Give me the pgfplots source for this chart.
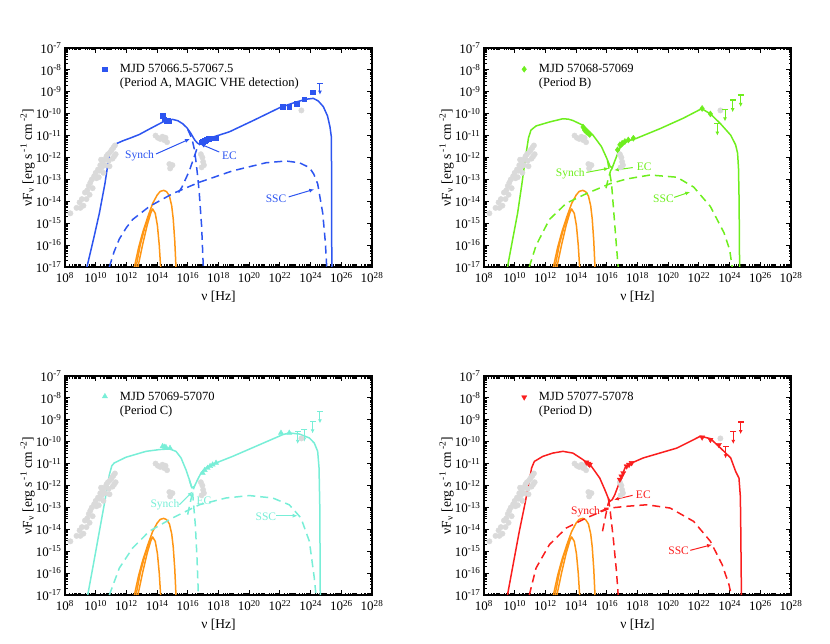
\documentclass[border=0pt]{standalone}
\usepackage{fontspec}
\setmainfont{Liberation Serif}
\usepackage{pgfplots}
\pgfplotsset{compat=1.18}
\usetikzlibrary{arrows.meta}

\definecolor{cA}{RGB}{45,85,240}
\definecolor{cB}{RGB}{110,238,30}
\definecolor{cC}{RGB}{120,238,215}
\definecolor{cD}{RGB}{250,30,30}
\definecolor{orng}{RGB}{255,150,20}
\definecolor{gry}{RGB}{218,218,218}

\xdef\xminors{8}
\foreach \dd in {8,...,27}{%
  \foreach \kk in {0.30103,0.47712,0.60206,0.69897,0.77815,0.84510,0.90309,0.95424}{%
    \pgfmathparse{\dd+\kk}%
    \xdef\xminors{\xminors,\pgfmathresult}}%
  \ifodd\dd\relax \xdef\xminors{\xminors,\dd}\fi}
\xdef\yminors{-17}
\foreach \dd in {-17,...,-8}{%
  \foreach \kk in {0.30103,0.47712,0.60206,0.69897,0.77815,0.84510,0.90309,0.95424}{%
    \pgfmathparse{\dd+\kk}%
    \xdef\yminors{\yminors,\pgfmathresult}}}

\tikzset{
  lbl/.style={font=\fontsize{11.5}{13}\selectfont},
  leg/.style={font=\fontsize{12.5}{15}\selectfont, anchor=west, text=black},
}
\pgfplotsset{sed/.style={
  scale only axis, width=307pt, height=219pt,
  xmin=8, xmax=28, ymin=-17, ymax=-7,
  xtick={8,10,...,28},
  xticklabels={10\textsuperscript{8},10\textsuperscript{10},10\textsuperscript{12},10\textsuperscript{14},10\textsuperscript{16},10\textsuperscript{18},10\textsuperscript{20},10\textsuperscript{22},10\textsuperscript{24},10\textsuperscript{26},10\textsuperscript{28}},
  ytick={-17,-16,...,-7},
  yticklabels={10\textsuperscript{-17},10\textsuperscript{-16},10\textsuperscript{-15},10\textsuperscript{-14},10\textsuperscript{-13},10\textsuperscript{-12},10\textsuperscript{-11},10\textsuperscript{-10},10\textsuperscript{-9},10\textsuperscript{-8},10\textsuperscript{-7}},
  minor xtick/.expanded=\xminors,
  minor ytick/.expanded=\yminors,
  tick pos=both, tick align=inside,
  major tick length=5pt, minor tick length=2.5pt,
  every tick/.style={black, line width=0.9pt},
  axis line style={line width=1.6pt},
  tick label style={font=\fontsize{13}{15}\selectfont},
  xticklabel style={yshift=-1.5pt},
  label style={font=\fontsize{13.5}{16}\selectfont},
  xlabel={ν [Hz]},
  ylabel={νF\textsubscript{ν} [erg s\,\textsuperscript{-1} cm\,\textsuperscript{-2}]},
  xlabel style={at={(axis description cs:0.5,-0.137)}, anchor=center},
  ylabel style={at={(axis description cs:-0.122,0.5)}, anchor=center},
  model/.style={line width=1.5pt, line join=round, no marks},
  dsh/.style={line width=1.5pt, line join=round, no marks, dash pattern=on 8pt off 5pt},
}}

\newcommand\greypts{%
\addplot[only marks, gry, mark=*, mark size=2.7pt, mark options={draw=gry, fill=gry}] coordinates {
(8.35,-14.55)(8.75,-14.3)(8.95,-14.05)(9.1,-13.9)(9.2,-14.2)(9.3,-13.6)(9.45,-13.5)(9.55,-13.3)
(9.65,-13.15)(9.75,-13.0)(9.8,-13.4)(9.9,-12.85)(10.0,-12.7)(10.05,-12.95)(10.15,-12.55)(10.25,-12.6)
(10.3,-12.35)(10.4,-12.45)(10.45,-12.2)(10.55,-12.1)(10.6,-12.35)(10.7,-11.95)(10.8,-11.85)(10.85,-12.15)
(10.95,-11.75)(11.05,-11.65)(11.15,-11.55)(11.25,-11.45)(11.3,-11.85)(11.1,-12.05)(10.2,-12.9)(9.6,-13.7)
(9.0,-14.3)(10.5,-12.7)(10.9,-12.4)(11.2,-11.95)(9.4,-13.9)(10.35,-12.1)
(13.9,-11.0)(14.05,-11.1)(14.2,-11.15)(14.35,-11.05)(14.45,-11.2)(14.55,-11.1)(14.65,-11.3)
(14.8,-12.3)(14.9,-12.4)(15.0,-12.35)(14.85,-12.5)
(16.85,-11.85)(16.95,-12.0)(17.0,-12.2)(17.05,-12.35)(16.9,-12.45)
(23.4,-9.85)};
}
\newcommand\orangecurves{%
\addplot[model, orng] coordinates {(12.52,-17)(12.8,-16.1)(13.06,-15.43)(13.4,-14.7)(13.71,-14.1)(14.0,-13.72)(14.2,-13.55)(14.43,-13.5)(14.62,-13.56)(14.8,-13.75)(14.95,-14.2)(15.05,-14.8)(15.15,-15.8)(15.23,-17)};
\addplot[model, orng] coordinates {(12.63,-17)(12.9,-16.0)(13.2,-15.2)(13.5,-14.6)(13.71,-14.35)(13.88,-14.55)(14.02,-15.1)(14.14,-16.0)(14.23,-17)};
\addplot[model, orng] coordinates {(12.75,-17)(13.05,-16.0)(13.35,-15.1)(13.6,-14.5)(13.71,-14.35)};
}

\begin{document}
\begin{tikzpicture}
\useasboundingbox (0,0) rectangle (830pt,643pt);

% ---------------- Panel A ----------------
\begin{axis}[sed, at={(65pt,376pt)}, anchor=south west]
\greypts
\orangecurves
\addplot[dsh, cA] coordinates {(10.89,-17)(11.2,-16.3)(11.54,-15.72)(12.0,-15.2)(12.41,-14.83)(13.49,-14.24)(15.01,-13.65)(16.75,-13.13)(18.92,-12.61)(21.09,-12.24)(22.4,-12.16)(23.27,-12.24)(23.92,-12.46)(24.2,-12.75)(24.46,-13.2)(24.79,-14.54)(24.96,-15.87)(25.05,-17)};
\addplot[dsh, cA] coordinates {(16.0,-10.72)(16.27,-11.15)(16.42,-11.6)(16.53,-12.16)(16.65,-12.9)(16.75,-13.65)(16.9,-15.13)(17.01,-17)};
\addplot[dsh, cA] coordinates {(15.4,-13.6)(15.62,-13.35)(16.1,-12.61)(16.43,-11.94)(16.64,-11.5)(16.8,-11.38)};
\addplot[model, cA] coordinates {(9.43,-17)(9.9,-15.6)(10.24,-14.54)(10.6,-13.2)(10.89,-11.87)(11.05,-11.55)(11.21,-11.42)(11.5,-11.32)(11.76,-11.24)(12.3,-11.1)(12.84,-10.95)(13.5,-10.7)(14.15,-10.46)(14.6,-10.3)(15.01,-10.26)(15.35,-10.32)(15.67,-10.46)(15.95,-10.65)(16.2,-10.9)(16.45,-11.2)(16.64,-11.35)(16.75,-11.38)(16.95,-11.3)(17.4,-11.12)(18.7,-10.83)(20.3,-10.3)(22.0,-9.72)(23.0,-9.48)(23.7,-9.34)(24.18,-9.3)(24.5,-9.42)(24.83,-9.68)(25.1,-10.1)(25.26,-10.59)(25.35,-11.05)(25.37,-13)(25.38,-17)};
\addplot[only marks, mark=square*, mark size=2.3pt, cA] coordinates {(14.38,-10.1)(14.45,-10.25)(14.58,-10.31)(14.7,-10.3)(14.8,-10.35)(16.9,-11.3)(16.97,-11.27)(17.1,-11.22)(17.19,-11.2)(17.35,-11.15)(17.51,-11.12)(17.84,-11.12)(22.17,-9.69)(22.6,-9.68)(23.1,-9.54)(23.58,-9.33)(24.12,-9.02)};
\addplot[only marks, mark=-, mark size=3pt, cA, mark options={line width=1.3pt}] coordinates {(24.61,-8.63)};
\addplot[cA, line width=1pt, -{Latex[length=4pt,width=4pt]}, quiver={u value=0, v value=-0.5}] coordinates {(24.61,-8.63)};
\addplot[only marks, mark=square*, mark size=2.3pt, cA] coordinates {(10.6,-7.97)};
\node[leg] at (axis cs:11.35,-7.95) {MJD 57066.5-57067.5};
\node[leg] at (axis cs:11.35,-8.63) {(Period A, MAGIC VHE detection)};
\node[lbl, text=cA] at (axis cs:12.86,-11.94) {Synch};
\draw[cA, line width=1pt, -{Latex[length=5pt,width=4pt]}] (axis cs:13.93,-11.84) -- (axis cs:16.14,-11.15);
\node[lbl, text=cA] at (axis cs:18.71,-11.9) {EC};
\draw[cA, line width=1pt, -{Latex[length=5pt,width=4pt]}] (axis cs:18.05,-11.75) -- (axis cs:16.8,-11.38);
\node[lbl, text=cA] at (axis cs:21.75,-13.87) {SSC};
\draw[cA, line width=1pt, -{Latex[length=5pt,width=4pt]}] (axis cs:22.57,-13.8) -- (axis cs:24.24,-13.45);
\end{axis}

% ---------------- Panel B ----------------
\begin{axis}[sed, at={(484pt,376pt)}, anchor=south west]
\greypts
\orangecurves
\addplot[dsh, cB] coordinates {(10.95,-17)(11.39,-16.02)(12.26,-14.83)(13.36,-14.09)(14.67,-13.65)(16.2,-13.2)(17.29,-12.98)(18.82,-12.8)(20.57,-12.9)(21.66,-13.35)(22.75,-14.24)(23.63,-15.43)(24.0,-16.2)(24.17,-17)};
\addplot[dsh, cB] coordinates {(16.05,-12.15)(16.15,-12.54)(16.31,-13.2)(16.46,-14.54)(16.6,-15.8)(16.74,-17)};
\addplot[dsh, cB] coordinates {(15.95,-13.4)(16.09,-12.98)(16.25,-12.6)(16.4,-12.45)};
\addplot[model, cB] coordinates {(9.53,-17)(9.85,-15.8)(10.19,-14.54)(10.45,-13.3)(10.73,-11.87)(10.9,-11.1)(11.06,-10.75)(11.39,-10.56)(12.26,-10.38)(13.14,-10.23)(13.5,-10.25)(13.79,-10.31)(14.45,-10.53)(15.1,-10.98)(15.65,-11.5)(15.98,-12.01)(16.2,-12.39)(16.35,-12.48)(16.52,-12.16)(16.85,-11.57)(17.29,-11.27)(17.95,-11.12)(19.48,-10.68)(21.0,-10.2)(22.1,-9.8)(22.3,-9.82)(22.75,-10.01)(23.41,-10.46)(24.07,-10.98)(24.39,-11.42)(24.52,-11.8)(24.58,-12.5)(24.62,-14)(24.65,-17)};
\addplot[only marks, mark=diamond*, mark size=3pt, cB] coordinates {(14.45,-10.61)(14.55,-10.75)(14.67,-10.83)(14.8,-10.9)(14.89,-10.95)(16.7,-11.65)(16.85,-11.42)(17.0,-11.35)(17.18,-11.27)(17.4,-11.2)(17.73,-11.12)(22.21,-9.76)(22.75,-10.01)};
\addplot[only marks, mark=-, mark size=3pt, cB, mark options={line width=1.3pt}] coordinates {(23.2,-10.45)(23.7,-9.8)(24.2,-9.38)(24.72,-9.14)};
\addplot[cB, line width=1pt, -{Latex[length=4pt,width=4pt]}, quiver={u value=0, v value=-0.55}] coordinates {(23.2,-10.45)(23.7,-9.8)(24.2,-9.38)(24.72,-9.14)};
\addplot[only marks, mark=diamond*, mark size=3pt, cB] coordinates {(10.62,-7.97)};
\node[leg] at (axis cs:11.35,-7.95) {MJD 57068-57069};
\node[leg] at (axis cs:11.35,-8.63) {(Period B)};
\node[lbl, text=cB] at (axis cs:13.62,-12.76) {Synch};
\draw[cB, line width=1pt, -{Latex[length=5pt,width=4pt]}] (axis cs:14.67,-12.68) -- (axis cs:16.15,-12.49);
\node[lbl, text=cB] at (axis cs:18.43,-12.43) {EC};
\draw[cB, line width=1pt, -{Latex[length=5pt,width=4pt]}] (axis cs:17.69,-12.46) -- (axis cs:16.46,-12.58);
\node[lbl, text=cB] at (axis cs:19.69,-13.9) {SSC};
\draw[cB, line width=1pt, -{Latex[length=5pt,width=4pt]}] (axis cs:20.39,-13.82) -- (axis cs:21.44,-13.57);
\end{axis}

% ---------------- Panel C ----------------
\begin{axis}[sed, at={(65pt,48pt)}, anchor=south west]
\greypts
\orangecurves
\addplot[dsh, cC] coordinates {(10.89,-17)(11.54,-15.77)(12.41,-14.85)(13.49,-14.09)(15.01,-13.48)(16.75,-12.88)(18.49,-12.57)(20.01,-12.46)(21.53,-12.57)(22.61,-12.88)(23.37,-13.48)(23.92,-14.55)(24.24,-16.22)(24.35,-17)};
\addplot[dsh, cC] coordinates {(16.1,-11.75)(16.3,-12.19)(16.36,-12.72)(16.49,-13.79)(16.6,-15.31)(16.69,-17)};
\addplot[dsh, cC] coordinates {(15.99,-13.33)(16.32,-12.27)(16.43,-12.04)};
\addplot[model, cC] coordinates {(9.48,-17)(9.85,-15.6)(10.24,-14.09)(10.6,-12.7)(10.89,-11.51)(11.05,-11.1)(11.21,-10.97)(11.97,-10.71)(13.28,-10.44)(14.15,-10.36)(14.8,-10.33)(15.23,-10.44)(15.56,-10.74)(15.88,-11.28)(16.1,-11.73)(16.27,-12.11)(16.43,-12.04)(16.64,-11.73)(16.86,-11.43)(17.19,-11.2)(17.84,-10.97)(18.92,-10.67)(22.18,-9.68)(22.61,-9.6)(23.27,-9.65)(23.92,-9.83)(24.24,-10.06)(24.46,-10.44)(24.55,-11.2)(24.6,-13)(24.63,-17)};
\addplot[only marks, mark=triangle*, mark size=3pt, cC] coordinates {(14.36,-10.21)(14.5,-10.24)(14.58,-10.26)(14.84,-10.29)(16.97,-11.43)(17.1,-11.3)(17.29,-11.2)(17.45,-11.12)(17.62,-11.05)(17.84,-10.97)(22.07,-9.6)(22.61,-9.6)};
\addplot[only marks, mark=-, mark size=3pt, cC, mark options={line width=1.3pt}] coordinates {(23.16,-9.55)(23.59,-9.45)(24.13,-9.07)(24.61,-8.61)};
\addplot[cC, line width=1pt, -{Latex[length=4pt,width=4pt]}, quiver={u value=0, v value=-0.55}] coordinates {(23.16,-9.55)(23.59,-9.45)(24.13,-9.07)(24.61,-8.61)};
\addplot[only marks, mark=triangle*, mark size=3pt, cC] coordinates {(10.6,-7.93)};
\node[leg] at (axis cs:11.35,-7.95) {MJD 57069-57070};
\node[leg] at (axis cs:11.35,-8.63) {(Period C)};
\node[lbl, text=cC] at (axis cs:14.51,-12.88) {Synch};
\draw[cC, line width=1pt, -{Latex[length=5pt,width=4pt]}] (axis cs:15.45,-12.88) -- (axis cs:16.32,-12.27);
\node[lbl, text=cC] at (axis cs:17.05,-12.68) {EC};
\node[lbl, text=cC] at (axis cs:21.09,-13.44) {SSC};
\draw[cC, line width=1pt, -{Latex[length=5pt,width=4pt]}] (axis cs:21.75,-13.38) -- (axis cs:23.16,-13.38);
\end{axis}

% ---------------- Panel D ----------------
\begin{axis}[sed, at={(484pt,48pt)}, anchor=south west]
\greypts
\orangecurves
\addplot[dsh, cD] coordinates {(10.95,-17)(11.39,-15.77)(12.26,-14.7)(13.36,-13.94)(14.67,-13.48)(16.2,-13.03)(17.29,-12.95)(18.6,-12.88)(20.13,-13.03)(21.66,-13.64)(22.75,-14.55)(23.52,-15.62)(23.96,-16.53)(24.11,-17)};
\addplot[dsh, cD] coordinates {(16.1,-12.6)(16.2,-13.03)(16.42,-14.4)(16.63,-15.92)(16.74,-17)};
\addplot[dsh, cD] coordinates {(15.72,-14.09)(15.98,-13.18)(16.1,-12.8)(16.2,-12.72)};
\addplot[model, cD] coordinates {(9.53,-17)(9.9,-15.6)(10.3,-14.09)(10.65,-12.9)(10.95,-11.81)(11.1,-11.2)(11.28,-10.9)(11.83,-10.67)(12.48,-10.52)(13.14,-10.44)(13.79,-10.52)(14.45,-10.82)(14.99,-11.12)(15.54,-11.66)(15.87,-12.19)(16.09,-12.57)(16.2,-12.72)(16.35,-12.65)(16.52,-12.42)(16.85,-11.81)(17.18,-11.2)(17.62,-10.97)(18.38,-10.74)(20.57,-10.29)(22.1,-9.75)(22.75,-9.86)(23.41,-10.29)(24.07,-10.74)(24.39,-11.35)(24.61,-11.66)(24.7,-12.5)(24.72,-13.48)(24.77,-17)};
\addplot[only marks, mark=triangle*, mark size=3pt, cD, mark options={rotate=180}] coordinates {(14.67,-10.94)(14.8,-11.0)(14.89,-11.05)(16.85,-11.73)(16.95,-11.58)(17.07,-11.43)(17.29,-11.12)(17.45,-11.05)(17.62,-10.97)(22.21,-9.8)(22.75,-9.91)(23.3,-10.14)};
\addplot[only marks, mark=-, mark size=3pt, cD, mark options={line width=1.3pt}] coordinates {(23.74,-10.21)(24.24,-9.55)(24.72,-9.1)};
\addplot[cD, line width=1pt, -{Latex[length=4pt,width=4pt]}, quiver={u value=0, v value=-0.55}] coordinates {(23.74,-10.21)(24.24,-9.55)(24.72,-9.1)};
\addplot[only marks, mark=triangle*, mark size=3pt, cD, mark options={rotate=180}] coordinates {(10.62,-7.97)};
\node[leg] at (axis cs:11.35,-7.95) {MJD 57077-57078};
\node[leg] at (axis cs:11.35,-8.63) {(Period D)};
\node[lbl, text=cD] at (axis cs:14.62,-13.21) {Synch};
\draw[cD, line width=1pt, -{Latex[length=5pt,width=4pt]}] (axis cs:15.54,-13.18) -- (axis cs:16.15,-13.0);
\node[lbl, text=cD] at (axis cs:18.38,-12.42) {EC};
\draw[cD, line width=1pt, -{Latex[length=5pt,width=4pt]}] (axis cs:17.68,-12.45) -- (axis cs:16.46,-12.65);
\node[lbl, text=cD] at (axis cs:20.68,-14.98) {SSC};
\draw[cD, line width=1pt, -{Latex[length=5pt,width=4pt]}] (axis cs:21.44,-14.96) -- (axis cs:22.86,-14.7);
\end{axis}
\end{tikzpicture}
\end{document}
